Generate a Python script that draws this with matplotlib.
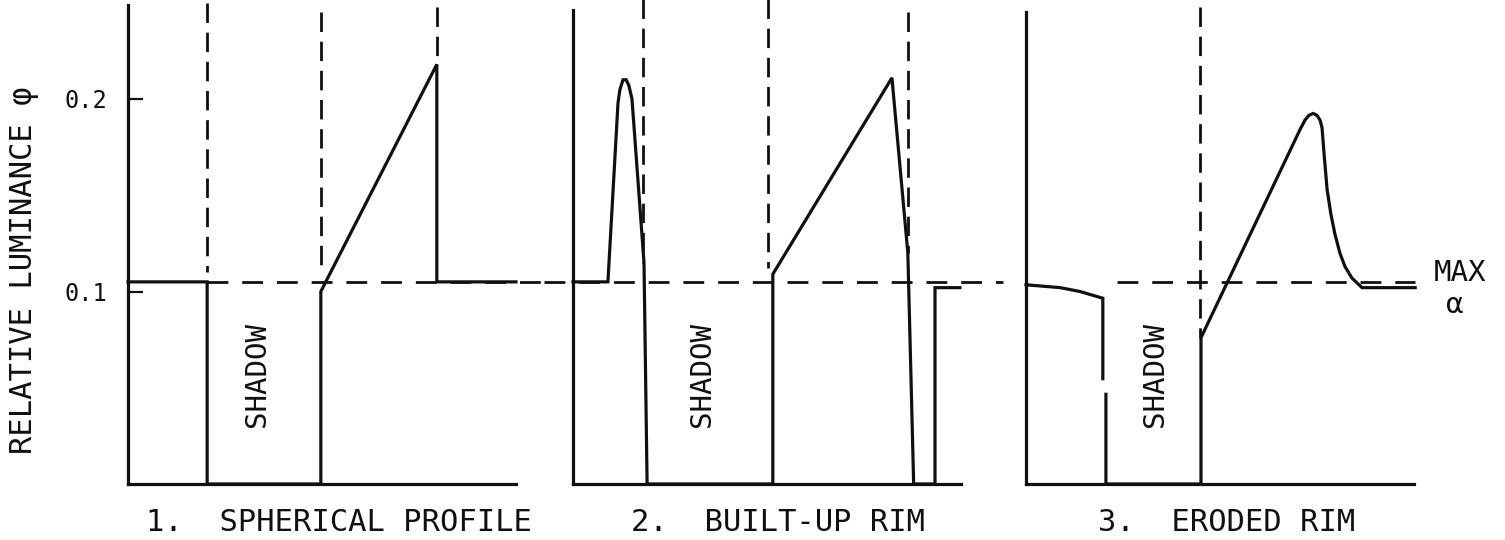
import numpy as np
import matplotlib
matplotlib.use("Agg")
import matplotlib.pyplot as plt

plt.rcParams['font.family'] = ['DejaVu Sans Mono', 'DejaVu Sans']
plt.rcParams['lines.scale_dashes'] = False

# Position across each crater profile (percent of panel width) and relative luminance
x_spherical = [0, 20.4, 20.4, 49.7, 49.7, 79.6, 79.6, 100]
phi_spherical = [0.105, 0.105, 0, 0, 0.100, 0.218, 0.105, 0.105]

x_builtup = [0, 9.0, 11.6, 12.1, 12.9, 13.7, 14.4, 15.2, 18.3, 19.1,
             51.5, 51.5, 82.2, 86.3, 87.8, 93.3, 93.3, 99.7]
phi_builtup = [0.105, 0.105, 0.198, 0.205, 0.210, 0.210, 0.207, 0.200, 0.115, 0,
               0, 0.109, 0.211, 0.120, 0, 0, 0.102, 0.102]

x_eroded = [0, 8.8, 13.9, 19.8, 19.8, np.nan, 20.6, 20.6, 45.1, 45.1,
            70.6, 71.9, 72.9, 74.0, 75.0, 75.8, 76.3, 76.8, 77.6, 78.6,
            79.6, 80.9, 82.2, 84.0, 86.6, 100.3]
phi_eroded = [0.1035, 0.102, 0.100, 0.0965, 0.0547, np.nan, 0.0466, 0, 0, 0.076,
              0.184, 0.189, 0.1915, 0.1925, 0.1915, 0.189, 0.185, 0.172, 0.153, 0.140,
              0.130, 0.120, 0.113, 0.107, 0.102, 0.102]

# Vertical dashed guides: x, upper end, lower end
guides_spherical = ([20.4, 49.7, 79.6], [0.250, 0.245, 0.248], [0.110, 0.110, 0.218])
guides_builtup = ([18.0, 50.3, 86.3], [0.252, 0.252, 0.245], [0.115, 0.112, 0.120])
guides_eroded = ([44.8], [0.248], [0.076])

# Maximum-alpha luminance level, drawn dashed across the panels
max_alpha = 0.105
max_extent_spherical = (20.4, 107.2)
max_extent_builtup = (-7.5, 110.8)
max_extent_eroded = (23.5, 100.3)

titles = ["1.  SPHERICAL PROFILE", "2.  BUILT-UP RIM", "3.  ERODED RIM"]
title_left_px = [146, 631, 1098]
axis_top = [0.249, 0.246, 0.245]
yticks = [0.1, 0.2]
ytick_labels = ["0.1", "0.2"]

W, H = 1505, 540
fig = plt.figure(figsize=(W / 100, H / 100), dpi=100)
fig.patch.set_facecolor('white')

panel_left_px = [128, 573, 1026]
panel_w_px = 388
base_px = 484
unit_px = 1925
ymax = 0.25

panels = [
    (x_spherical, phi_spherical, guides_spherical, max_extent_spherical),
    (x_builtup, phi_builtup, guides_builtup, max_extent_builtup),
    (x_eroded, phi_eroded, guides_eroded, max_extent_eroded),
]

ink = '#101010'
lw = 2.3
axes = []
for i, (xs, ys, guides, mext) in enumerate(panels):
    ax = fig.add_axes([panel_left_px[i] / W, (H - base_px) / H,
                       panel_w_px / W, ymax * unit_px / H])
    ax.set_xlim(0, 100)
    ax.set_ylim(0, ymax)
    ax.patch.set_alpha(0)
    for s in ('top', 'right'):
        ax.spines[s].set_visible(False)
    for s in ('left', 'bottom'):
        ax.spines[s].set_linewidth(lw)
        ax.spines[s].set_color(ink)
    ax.spines['left'].set_bounds(0, axis_top[i])
    ax.set_xticks([])
    if i == 0:
        ax.set_yticks(yticks)
        ax.set_yticklabels(ytick_labels, fontsize=17)
        ax.tick_params(axis='y', direction='in', length=11, width=1.6,
                       pad=15, colors=ink)
    else:
        ax.set_yticks([])

    # luminance profile
    ax.plot(xs, ys, color=ink, lw=lw, clip_on=False, solid_joinstyle='miter')
    # dashed guides
    gx, gt, gb = guides
    for x, t, b in zip(gx, gt, gb):
        ax.plot([x, x], [t, b], color=ink, lw=2.0, ls=(0, (14, 7)),
                clip_on=False)
    ax.plot(list(mext), [max_alpha, max_alpha], color=ink, lw=2.0,
            ls=(0, (15, 10)), clip_on=False)

    ax.text(33.2, 0.057, "SHADOW", rotation=90, ha='center', va='center',
            fontsize=21, color=ink)
    axes.append(ax)

# Labels beside the max-alpha level
axes[2].text(105.2, 0.1095, "MAX", ha='left', va='center', fontsize=21,
             color=ink, clip_on=False)
axes[2].text(110.6, 0.093, "α", ha='center', va='center', fontsize=21,
             color=ink, clip_on=False)

for t, xl in zip(titles, title_left_px):
    fig.text(xl / W, (H - 531) / H, t, ha='left', va='baseline',
             fontsize=22, color=ink)

fig.text(25 / W, (H - 270) / H, "RELATIVE LUMINANCE φ", rotation=90,
         ha='center', va='center', fontsize=22, color=ink)

fig.savefig("out.png", dpi=100, facecolor='white')
